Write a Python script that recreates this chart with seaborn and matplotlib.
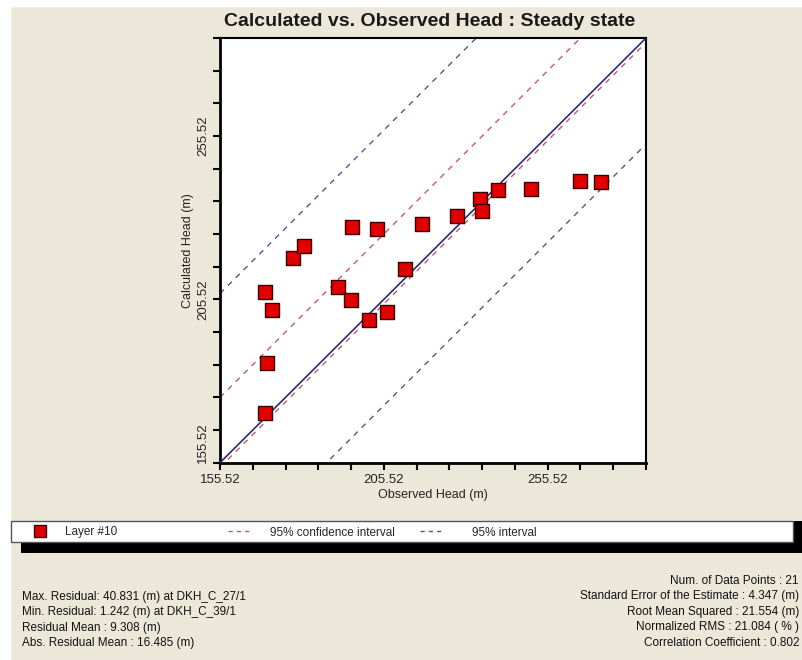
import matplotlib
matplotlib.use("Agg")  # no display
import matplotlib.pyplot as plt
from matplotlib.patches import Rectangle
from matplotlib.lines import Line2D
import seaborn as sns
import pandas as pd

# observed vs calculated heads
observed = [169.2, 171.4, 170.0, 169.2, 177.9, 181.3, 191.5, 195.6, 195.9, 203.5, 200.9,
            206.6, 212.0, 217.3, 227.7, 234.9, 235.6, 240.3, 250.5, 265.3, 271.7]
calculated = [207.9, 202.3, 185.9, 170.6, 218.1, 222.0, 209.4, 205.3, 227.8, 227.0, 199.2,
              201.5, 214.7, 228.5, 231.0, 236.1, 232.6, 239.0, 239.2, 241.7, 241.3]
layer = "Layer #10"

# offsets of the reference lines from the 1:1 line
interval_offsets = [51.8, -32.5]      # 95% interval
confidence_offsets = [20.0, -1.4]     # 95% confidence interval

axis_min, axis_max = 155.52, 285.52
tick_labels = [155.52, 205.52, 255.52]

stats_left = ["Max. Residual: 40.831 (m) at DKH_C_27/1",
              "Min. Residual: 1.242 (m) at DKH_C_39/1",
              "Residual Mean : 9.308 (m)",
              "Abs. Residual Mean : 16.485 (m)"]
stats_right = ["Num. of Data Points : 21",
               "Standard Error of the Estimate : 4.347 (m)",
               "Root Mean Squared : 21.554 (m)",
               "Normalized RMS : 21.084 ( % )",
               "Correlation Coefficient : 0.802"]

df = pd.DataFrame({"Observed": observed, "Calculated": calculated, "Layer": layer})

sns.set_style("white")
plt.rcParams['font.family'] = ['Liberation Sans', 'DejaVu Sans']

bg = "#ECE8D9"
W, H = 802, 660
fig = plt.figure(figsize=(W / 100, H / 100), dpi=100, facecolor=bg)

def fx(px):
    return px / W

def fy(py):
    return 1 - py / H

# white strips along top and left edge of the screenshot
fig.add_artist(Rectangle((0, fy(6)), 1, 6 / H, transform=fig.transFigure, color="white", zorder=0))
fig.add_artist(Rectangle((0, 0), fx(10), 1, transform=fig.transFigure, color="white", zorder=0))

ax = fig.add_axes([fx(220), fy(462.7), 426 / W, 424.7 / H])
ax.set_facecolor("white")

# reference lines
xs = [axis_min, axis_max]
for off in confidence_offsets:
    ax.plot(xs, [v + off for v in xs], color="#C25A6A", lw=1, dashes=(4, 4), zorder=2)
for off in interval_offsets:
    ax.plot(xs, [v + off for v in xs], color="#55558F", lw=1, dashes=(4, 4), zorder=2)
ax.plot(xs, xs, color="#2E2A78", lw=1.2, zorder=3)

sns.scatterplot(data=df, x="Observed", y="Calculated", marker="s", s=100,
                color="#E00000", edgecolor="#3A0000", linewidth=1, ax=ax,
                legend=False, zorder=4)

ax.set_xlim(axis_min, axis_max)
ax.set_ylim(axis_min, axis_max)
ax.set_xticks(tick_labels)
ax.set_yticks(tick_labels)
ax.set_xticklabels([f"{t:.2f}" for t in tick_labels])
ax.set_yticklabels([f"{t:.2f}" for t in tick_labels], rotation=90, va="center")
minor = [axis_min + 10 * i for i in range(14)]
ax.set_xticks(minor, minor=True)
ax.set_yticks(minor, minor=True)
ax.tick_params(which="both", direction="out", length=5, width=1.5, color="black",
               labelsize=9.5, labelcolor="#222222", pad=3, bottom=True, left=True)
# bottom y label sits above the corner
ax.get_yticklabels()[0].set_va("bottom")

for side in ["left", "bottom"]:
    ax.spines[side].set_linewidth(2)
for side in ["top", "right"]:
    ax.spines[side].set_linewidth(1.5)
for sp in ax.spines.values():
    sp.set_color("black")

ax.set_xlabel("Observed Head (m)", fontsize=9, color="#222222", labelpad=2)
ax.set_ylabel("Calculated Head (m)", fontsize=9, color="#222222", labelpad=2)

fig.text(fx(430), fy(22), "Calculated vs. Observed Head : Steady state", fontsize=14,
         fontweight="bold", ha="center", va="center", color="#1A1A1A")

# legend strip with black shadow
fig.add_artist(Rectangle((fx(21), fy(553)), fx(802 - 21), 32 / H, transform=fig.transFigure,
                         facecolor="black", edgecolor="none", zorder=5))
fig.add_artist(Rectangle((fx(11), fy(542)), fx(793 - 11), 21.5 / H, transform=fig.transFigure,
                         facecolor="white", edgecolor="#555555", lw=1, zorder=6))
ly = fy(531)
fig.add_artist(Line2D([fx(40)], [ly], marker="s", markersize=8, color="#E00000",
                      markeredgecolor="#3A0000", transform=fig.transFigure, zorder=7))
fig.text(fx(65), ly, layer, fontsize=8.5, va="center_baseline", zorder=7)
fig.add_artist(Line2D([fx(228), fx(252)], [ly, ly], color="#C25A6A", lw=1, dashes=(3, 3),
                      transform=fig.transFigure, zorder=7))
fig.text(fx(270), ly, "95% confidence interval", fontsize=8.5, va="center_baseline", zorder=7)
fig.add_artist(Line2D([fx(420), fx(444)], [ly, ly], color="#55558F", lw=1, dashes=(3, 3),
                      transform=fig.transFigure, zorder=7))
fig.text(fx(472), ly, "95% interval", fontsize=8.5, va="center_baseline", zorder=7)

# statistics text
for i, s in enumerate(stats_left):
    fig.text(fx(22), fy(597 + 15.3 * i), s, fontsize=8.5, va="center", color="#111111")
for i, s in enumerate(stats_right):
    fig.text(fx(799), fy(580.5 + 15.6 * i), s, fontsize=8.5, va="center", ha="right",
             color="#111111")

plt.savefig("out.png", dpi=100, facecolor=bg)
